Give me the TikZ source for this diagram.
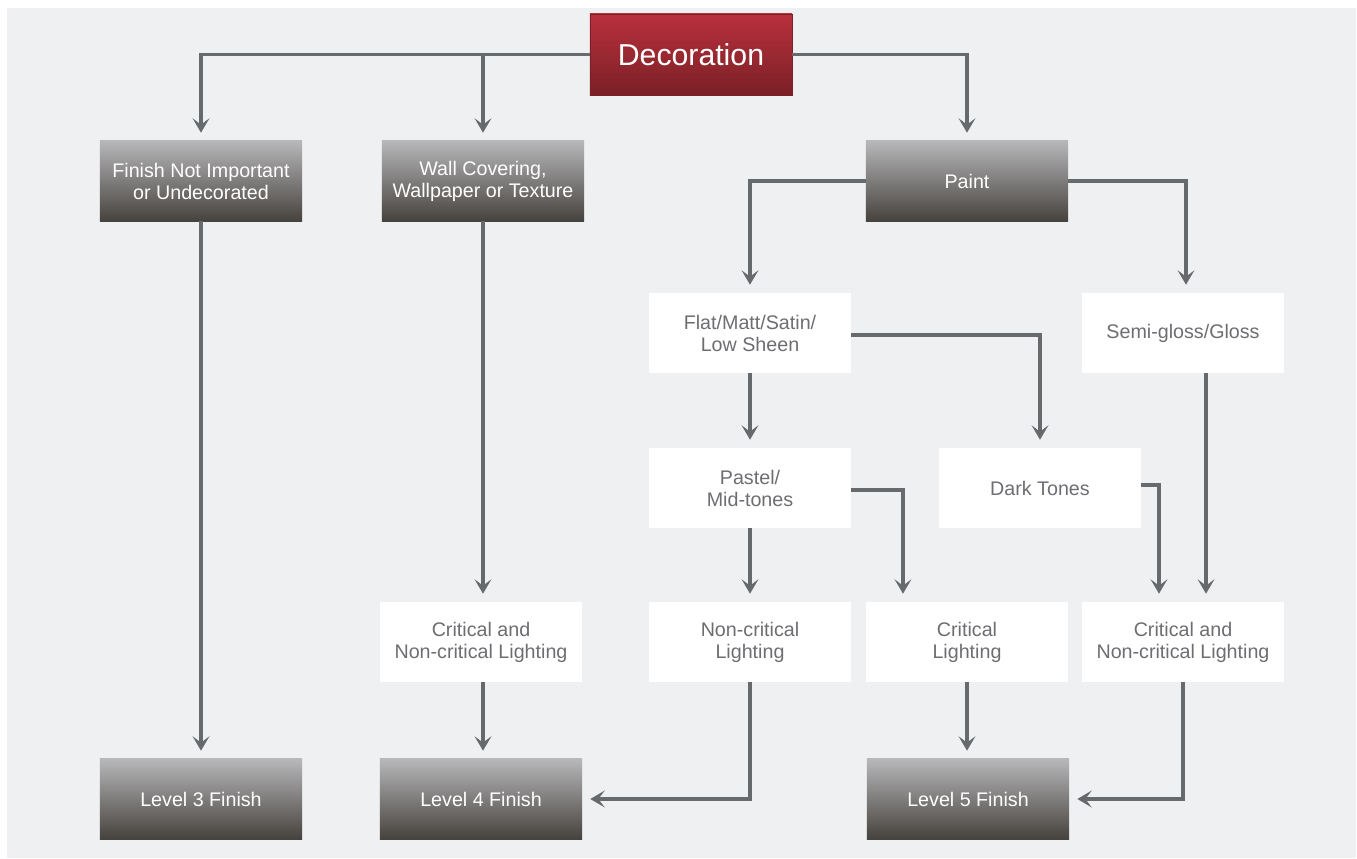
\documentclass[tikz,border=0pt]{standalone}
\usepackage{fontspec}
\setmainfont{Liberation Sans}
\usetikzlibrary{arrows.meta}

\definecolor{bgpanel}{HTML}{EFF0F2}
\definecolor{linkgray}{HTML}{676A6D}
\definecolor{labelgray}{HTML}{6D6E71}
\definecolor{boxtop}{HTML}{B7B7B9}
\definecolor{boxbottom}{HTML}{46423E}
\definecolor{redtop}{HTML}{B9303D}
\definecolor{redbottom}{HTML}{7A2026}

\begin{document}
\begin{tikzpicture}[x=0.025cm,y=-0.025cm,
	box/.style={minimum width=5.05cm,minimum height=2cm,inner sep=0pt,align=center,font=\fontsize{14}{15.6}\selectfont},
	darkbox/.style={box,top color=boxtop,bottom color=boxbottom,text=white},
	lightbox/.style={box,fill=white,text=labelgray},
	link/.style={draw=linkgray,line width=2.8pt,shorten >=0.2cm,-{Stealth[length=0.36cm,width=0.42cm,inset=0.16cm]}}]
	\useasboundingbox (0,0) rectangle (1357,859);
	\fill[bgpanel] (7,8) rectangle (1356,858);
	% the root
	\node[box,minimum height=2.025cm,top color=redtop,bottom color=redbottom,draw=redbottom,line width=0.6pt,text=white,font=\fontsize{21.5}{24}\selectfont] (deco) at (691,54.5) {Decoration};
	% first level
	\node[darkbox] (finish) at (201,181) {Finish Not Important\\or Undecorated};
	\node[darkbox] (wall) at (483,181) {Wall Covering,\\Wallpaper or Texture};
	\node[darkbox] (paint) at (967,181) {Paint};
	% paint sheens and tones
	\node[lightbox] (flat) at (750,333) {Flat/Matt/Satin/\\Low Sheen};
	\node[lightbox] (semi) at (1183,333) {Semi-gloss/Gloss};
	\node[lightbox] (pastel) at (750,488) {Pastel/\\Mid-tones};
	\node[lightbox] (dark) at (1040,488) {Dark Tones};
	% lighting
	\node[lightbox] (wcrit) at (481,642) {Critical and\\Non-critical Lighting};
	\node[lightbox] (noncrit) at (750,642) {Non-critical\\Lighting};
	\node[lightbox] (crit) at (967,642) {Critical\\Lighting};
	\node[lightbox] (rcrit) at (1183,642) {Critical and\\Non-critical Lighting};
	% finish levels
	\node[darkbox] (lvl3) at (201,799) {Level 3 Finish};
	\node[darkbox] (lvl4) at (481,799) {Level 4 Finish};
	\node[darkbox] (lvl5) at (968,799) {Level 5 Finish};
	% connectors
	\draw[link] (deco.west) -| (finish.north);
	\draw[link] (wall.north |- deco.west) -- (wall.north);
	\draw[link] (deco.east) -| (paint.north);
	\draw[link] (paint.west) -| (flat.north);
	\draw[link] (paint.east) -| ([xshift=0.075cm]semi.north);
	\draw[link] ([yshift=-0.05cm]flat.east) -| (dark.north);
	\draw[link] (flat.south) -- (pastel.north);
	\draw[link] ([yshift=-0.05cm]pastel.east) -| ([xshift=-1.6cm]crit.north);
	\draw[link] ([yshift=0.075cm]dark.east) -| ([xshift=-0.6cm]rcrit.north);
	\draw[link] ([xshift=0.575cm]semi.south) -- ([xshift=0.575cm]rcrit.north);
	\draw[link] (pastel.south) -- (noncrit.north);
	\draw[link] (finish.south) -- (lvl3.north);
	\draw[link] (wall.south) -- (wall.south |- wcrit.north);
	\draw[link] ([xshift=0.05cm]wcrit.south) -- ([xshift=0.05cm]lvl4.north);
	\draw[link] (noncrit.south) |- (lvl4.east);
	\draw[link] (crit.south) -- (crit.south |- lvl5.north);
	\draw[link] (rcrit.south) |- (lvl5.east);
\end{tikzpicture}
\end{document}
